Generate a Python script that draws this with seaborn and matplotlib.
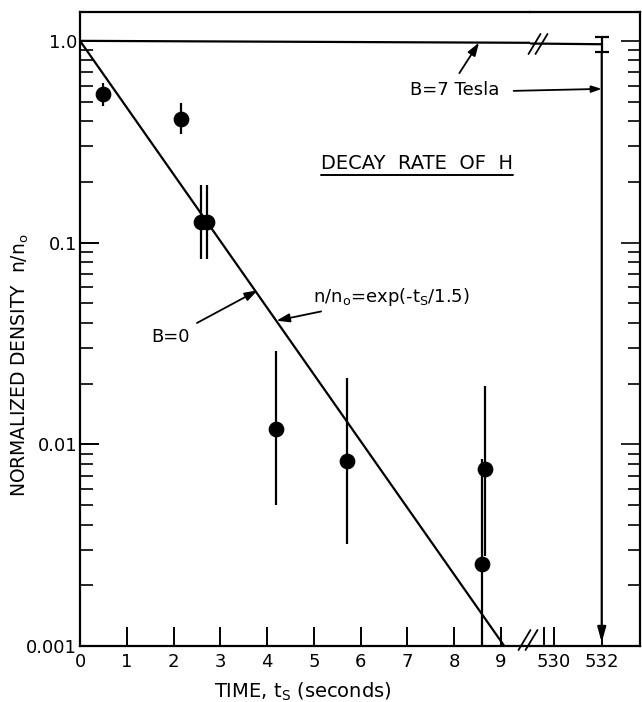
import matplotlib
matplotlib.use("Agg")
import matplotlib.pyplot as plt
import seaborn as sns
import pandas as pd
from matplotlib.ticker import FixedLocator, NullFormatter, LogLocator
from matplotlib.lines import Line2D

# ---------------- data ----------------
t_s = [0.50, 2.15, 2.58, 2.71, 4.19, 5.71, 8.60, 8.65]
density = [0.545, 0.41, 0.126, 0.126, 0.0119, 0.0083, 0.00256, 0.0075]
err_hi = [0.62, 0.49, 0.192, 0.192, 0.029, 0.0213, 0.0085, 0.0194]
err_lo = [0.475, 0.345, 0.083, 0.083, 0.0050, 0.0032, 0.0010, 0.0028]

fit_t = [0.0, 9.07]
fit_n = [1.0, 0.001]

b7_t_near = [0.0, 9.62]
b7_n_near = [1.0, 0.978]
b7_t_far = [529.0, 532.0]
b7_n_far = [0.97, 0.962]
b7_point_t = [532.0]
b7_point_n = [0.962]
b7_err_hi = [1.045]
b7_err_lo = [0.88]

x_ticks_near = [0, 1, 2, 3, 4, 5, 6, 7, 8, 9]
x_ticks_far = [530, 532]
y_ticks = [0.001, 0.01, 0.1, 1.0]
y_ticklabels = ["0.001", "0.01", "0.1", "1.0"]

# ---------------- styling ----------------
sns.set_style("ticks")
plt.rcParams["font.family"] = ["DejaVu Sans"]
plt.rcParams.update({"text.color": "black", "axes.labelcolor": "black",
                     "xtick.color": "black", "ytick.color": "black",
                     "axes.edgecolor": "black"})
FS = 13

W, H = 642, 702
fig = plt.figure(figsize=(W / 100, H / 100), dpi=100)
left_px, break_px, right_px = 80, 530, 640
top_px, bot_px = 12, 646
b = (H - bot_px) / H
h = (bot_px - top_px) / H
ax1 = fig.add_axes([left_px / W, b, (break_px - left_px) / W, h])
ax2 = fig.add_axes([break_px / W, b, (right_px - break_px) / W, h], sharey=ax1)

for ax in (ax1, ax2):
    ax.set_yscale("log")
    ax.patch.set_alpha(0)
    for s in ax.spines.values():
        s.set_linewidth(1.6)
        s.set_color("black")
ax1.set_ylim(0.001, 1.39)
ax1.set_xlim(0, 9.62)
ax2.set_xlim(529.0, 533.6)
ax1.spines["right"].set_visible(False)
ax2.spines["left"].set_visible(False)

# fit line and B=7 line
df_fit = pd.DataFrame({"t": fit_t, "n": fit_n})
sns.lineplot(data=df_fit, x="t", y="n", ax=ax1, color="black", lw=1.6)
sns.lineplot(x=b7_t_near, y=b7_n_near, ax=ax1, color="black", lw=1.6)
sns.lineplot(x=b7_t_far, y=b7_n_far, ax=ax2, color="black", lw=1.6)

# data points with error bars
ax1.vlines(t_s, err_lo, err_hi, color="black", lw=1.6)
df_pts = pd.DataFrame({"t": t_s, "n": density})
sns.scatterplot(data=df_pts, x="t", y="n", ax=ax1, color="black", s=110,
                edgecolor="black", zorder=5)

# B=7 point at 532 s with caps, and downward arrow
ax2.errorbar(b7_point_t, b7_point_n,
             yerr=[[b7_point_n[0] - b7_err_lo[0]], [b7_err_hi[0] - b7_point_n[0]]],
             fmt="none", ecolor="black", elinewidth=1.6, capsize=5, capthick=1.6)
ax2.annotate("", xy=(b7_point_t[0], 0.00104), xytext=(b7_point_t[0], b7_err_lo[0]),
             arrowprops=dict(arrowstyle="-|>,head_length=0.9,head_width=0.25",
                             color="black", lw=1.6, shrinkA=0, shrinkB=0))

# ticks
ax1.xaxis.set_major_locator(FixedLocator(x_ticks_near))
ax1.set_xticklabels([str(v) for v in x_ticks_near])
ax2.xaxis.set_major_locator(FixedLocator(x_ticks_far))
ax2.set_xticklabels([str(v) for v in x_ticks_far])
ax2.xaxis.set_minor_locator(FixedLocator([529.6]))
ax1.yaxis.set_major_locator(FixedLocator(y_ticks))
ax1.set_yticklabels(y_ticklabels)
ax1.yaxis.set_minor_locator(LogLocator(base=10, subs=range(2, 10)))
ax1.yaxis.set_minor_formatter(NullFormatter())

ax1.tick_params(axis="both", which="major", direction="in", length=14, width=1.4,
                labelsize=FS, pad=5)
ax1.tick_params(axis="y", which="minor", direction="in", length=9, width=1.2)
ax1.tick_params(axis="y", which="major", pad=2)
ax1.tick_params(axis="x", which="minor", bottom=False)
ax2.tick_params(axis="x", which="both", direction="in", length=14, width=1.4,
                labelsize=FS, pad=5)
ax2.tick_params(axis="y", which="both", left=False, labelleft=False, right=True,
                direction="in", width=1.2)
ax2.tick_params(axis="y", which="major", length=14)
ax2.tick_params(axis="y", which="minor", length=9)

ax1.set_xlabel("TIME, t$_\\mathregular{S}$ (seconds)", fontsize=14)
ax1.xaxis.set_label_coords((303 - left_px) / (break_px - left_px), -0.055)
ax1.set_ylabel("NORMALIZED DENSITY  n/n$_\\mathregular{o}$", fontsize=13.5)
ax1.yaxis.set_label_coords(-0.108, (bot_px - 365) / (bot_px - top_px))
ax2.set_xlabel("")
ax2.set_ylabel("")

# annotations
arrow_kw = dict(arrowstyle="-|>,head_length=0.6,head_width=0.2", color="black", lw=1.3)
title = ax1.text(7.2, 0.247, "DECAY  RATE  OF  H", fontsize=14, ha="center", va="center")
ax1.annotate("n/n$_\\mathregular{o}$=exp(-t$_\\mathregular{S}$/1.5)", xy=(4.2, 0.041),
             xytext=(4.98, 0.0538), fontsize=13, va="center", ha="left",
             arrowprops=dict(**arrow_kw, shrinkA=1, shrinkB=0))
ax1.annotate("B=0", xy=(3.8, 0.058), xytext=(1.94, 0.034), fontsize=FS,
             ha="center", va="center",
             arrowprops=dict(**arrow_kw, shrinkA=3, shrinkB=0))
ax1.annotate("B=7 Tesla", xy=(8.53, 0.98), xytext=(8.0, 0.57), fontsize=FS,
             ha="center", va="center",
             arrowprops=dict(**arrow_kw, shrinkA=4, shrinkB=0, relpos=(0.5, 1.0)))
ax2.annotate("", xy=(b7_point_t[0], 0.578), xycoords="data",
             xytext=(9.27, 0.565), textcoords=ax1.transData, annotation_clip=False,
             arrowprops=dict(**arrow_kw, shrinkA=0, shrinkB=0))

# underline for the heading and break marks
fig.canvas.draw()
r = fig.canvas.get_renderer()
bb = title.get_window_extent(r)
fig.add_artist(Line2D([bb.x0 / W, bb.x1 / W], [(bb.y0 - 2) / H, (bb.y0 - 2) / H],
                      transform=fig.transFigure, color="black", lw=1.4))


def brk(cx, cy, dx=6, dy=10, gap=7):
    for off in (-gap / 2, gap / 2):
        fig.add_artist(Line2D([(cx + off - dx) / W, (cx + off + dx) / W],
                              [(H - cy - dy) / H, (H - cy + dy) / H],
                              transform=fig.transFigure, color="black", lw=1.3))


brk(528, 640)
brk(538, 44)

fig.savefig("out.png", dpi=100)
